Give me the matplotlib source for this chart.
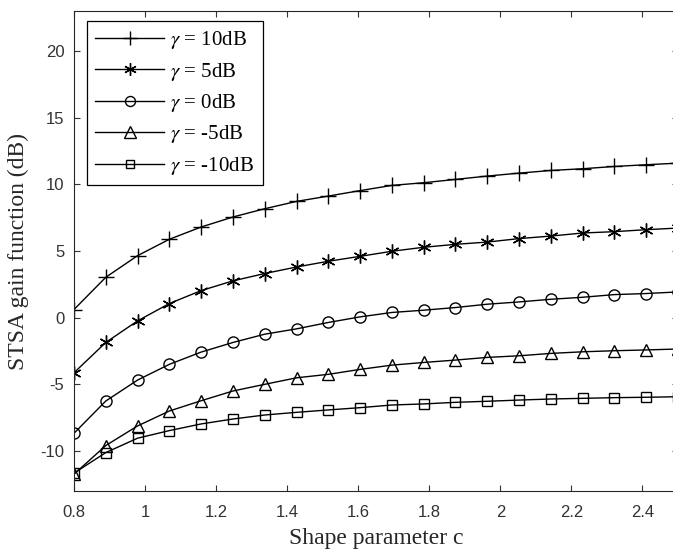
import matplotlib
matplotlib.use("Agg")
import matplotlib.pyplot as plt
import numpy as np

c_values = [0.8, 0.8895, 0.9789, 1.0684, 1.1579, 1.2474, 1.3368, 1.4263, 1.5158, 1.6053,
            1.6947, 1.7842, 1.8737, 1.9632, 2.0526, 2.1421, 2.2316, 2.3211, 2.4105, 2.5]

gain_10dB = [0.61, 3.03, 4.65, 5.88, 6.80, 7.55, 8.17, 8.72, 9.12, 9.53,
             9.92, 10.12, 10.37, 10.62, 10.84, 11.04, 11.17, 11.34, 11.47, 11.59]
gain_5dB = [-4.13, -1.86, -0.24, 1.06, 2.03, 2.76, 3.31, 3.80, 4.23, 4.60,
            4.98, 5.28, 5.50, 5.67, 5.93, 6.12, 6.35, 6.45, 6.60, 6.72]
gain_0dB = [-8.67, -6.25, -4.68, -3.50, -2.58, -1.86, -1.24, -0.84, -0.36, 0.06,
            0.39, 0.56, 0.76, 1.01, 1.18, 1.38, 1.53, 1.73, 1.81, 1.93]
gain_m5dB = [-11.74, -9.59, -8.12, -7.00, -6.23, -5.50, -5.00, -4.51, -4.25, -3.88,
             -3.56, -3.36, -3.18, -2.98, -2.86, -2.68, -2.56, -2.48, -2.42, -2.35]
gain_m10dB = [-11.66, -10.12, -9.04, -8.47, -7.97, -7.60, -7.30, -7.10, -6.92, -6.75,
              -6.55, -6.47, -6.35, -6.27, -6.18, -6.10, -6.05, -6.00, -5.97, -5.93]

labels = [r"$\gamma$ = 10dB", r"$\gamma$ = 5dB", r"$\gamma$ = 0dB",
          r"$\gamma$ = -5dB", r"$\gamma$ = -10dB"]
x_ticks = [0.8, 1, 1.2, 1.4, 1.6, 1.8, 2, 2.2, 2.4]
x_tick_labels = ["0.8", "1", "1.2", "1.4", "1.6", "1.8", "2", "2.2", "2.4"]
y_ticks = [-10, -5, 0, 5, 10, 15, 20]
y_tick_labels = ["-10", "-5", "0", "5", "10", "15", "20"]

plt.rcParams["mathtext.fontset"] = "stix"

W, H = 673, 550
fig = plt.figure(figsize=(W / 100, H / 100), dpi=100)
ax = fig.add_axes([74 / W, 1 - 491 / H, (678 - 74) / W, (491 - 11) / H])

series = [gain_10dB, gain_5dB, gain_0dB, gain_m5dB, gain_m10dB]
markers = ["+", (6, 2, 0), "o", "^", "s"]
msizes = [11, 10, 8, 9, 6.5]
for ys, mk, ms, lb in zip(series, markers, msizes, labels):
    ax.plot(c_values, ys, color="black", linewidth=1.0, marker=mk, markersize=ms,
            markerfacecolor="none", markeredgecolor="black", markeredgewidth=1.0,
            label=lb)

ax.set_xlim(0.8, 2.5)
ax.set_ylim(-13, 23)
ax.set_xticks(x_ticks)
ax.set_xticklabels(x_tick_labels)
ax.set_yticks(y_ticks)
ax.set_yticklabels(y_tick_labels)
ax.tick_params(direction="in", length=4, width=0.8, top=True, right=True,
               colors="#333333", labelsize=12)
ax.tick_params(axis="x", pad=10)
ax.tick_params(axis="y", pad=7)
for lab in ax.get_xticklabels() + ax.get_yticklabels():
    lab.set_fontfamily("Liberation Sans")
for sp in ax.spines.values():
    sp.set_color("#262626")
    sp.set_linewidth(0.8)

ax.set_xlabel("Shape parameter c", fontfamily="Liberation Serif", fontsize=17,
              color="#262626", labelpad=6)
ax.set_ylabel("STSA gain function (dB)", fontfamily="Liberation Serif", fontsize=17,
              color="#262626", labelpad=8)

leg = ax.legend(loc="upper left", bbox_to_anchor=((87 - 74) / 604, 1 - (21 - 11) / 480),
                borderaxespad=0, fancybox=False, framealpha=1, edgecolor="black",
                prop={"family": "Liberation Serif", "size": 15},
                handlelength=3.3, handletextpad=0.3, labelspacing=0.45,
                borderpad=0.4, markerscale=0.9)
leg.get_frame().set_linewidth(0.9)

fig.savefig("out.png", dpi=100)
